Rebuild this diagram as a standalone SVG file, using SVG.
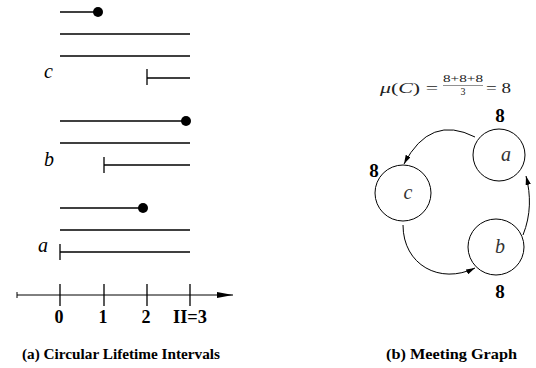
<svg xmlns="http://www.w3.org/2000/svg" width="536" height="368" viewBox="0 0 536 368">
<style>
.ln{stroke:#000;stroke-width:1.3;fill:none}
.dot{fill:#000}
.var{font-family:"Liberation Serif","DejaVu Serif",serif;font-style:italic;font-size:20px;fill:#000}
.num{font-family:"Liberation Serif",serif;font-weight:bold;font-size:18px;fill:#000}
.cap{font-family:"Liberation Serif",serif;font-weight:bold;font-size:14.5px;fill:#000}
.node{fill:#fff;stroke:#000;stroke-width:1}
.lbl{font-family:"Liberation Serif","DejaVu Serif",serif;font-style:italic;font-size:20px;fill:#333;text-anchor:middle}
.w{font-family:"Liberation Serif",serif;font-weight:bold;font-size:19px;fill:#000;text-anchor:middle}
.eq{font-family:"Liberation Serif",serif;font-size:15px;fill:#222}
.fr{font-family:"Liberation Serif",serif;font-size:10px;fill:#222;text-anchor:middle}
.edge{stroke:#000;stroke-width:1;fill:none;marker-end:url(#ah)}
</style>
<defs>
<marker id="ah" viewBox="0 0 10 6" refX="10" refY="3" markerWidth="9" markerHeight="5.4" markerUnits="userSpaceOnUse" orient="auto">
<path d="M0,0 L10,3 L0,6 Z" fill="#000"/>
</marker>
<marker id="axh" viewBox="0 0 16 6" refX="16" refY="3" markerWidth="16" markerHeight="6" markerUnits="userSpaceOnUse" orient="auto">
<path d="M0,0 L16,3 L0,6 Z" fill="#000"/>
</marker>
</defs>
<g id="intervals">
<g id="interval-c">
<line class="ln" x1="60" y1="12" x2="98" y2="12"/><circle class="dot" cx="98" cy="12" r="5"/>
<line class="ln" x1="60" y1="34" x2="190" y2="34"/>
<line class="ln" x1="60" y1="56" x2="190" y2="56"/>
<line class="ln" x1="147" y1="78" x2="190" y2="78"/><line class="ln" x1="147" y1="69" x2="147" y2="85"/>
<text class="var" x="44" y="78">c</text>
</g>
<g id="interval-b">
<line class="ln" x1="60" y1="121" x2="186" y2="121"/><circle class="dot" cx="186" cy="121" r="5"/>
<line class="ln" x1="60" y1="143" x2="190" y2="143"/>
<line class="ln" x1="104" y1="165" x2="190" y2="165"/><line class="ln" x1="104" y1="157" x2="104" y2="173"/>
<text class="var" x="44" y="166">b</text>
</g>
<g id="interval-a">
<line class="ln" x1="60" y1="208" x2="143" y2="208"/><circle class="dot" cx="143" cy="208" r="5"/>
<line class="ln" x1="60" y1="230" x2="190" y2="230"/>
<line class="ln" x1="60" y1="252" x2="190" y2="252"/><line class="ln" x1="60" y1="244" x2="60" y2="260"/>
<text class="var" x="38" y="252">a</text>
</g>
<g id="axis">
<line stroke="#000" stroke-width="1" x1="17" y1="295" x2="233" y2="295" marker-end="url(#axh)"/>
<line stroke="#000" stroke-width="1" x1="17" y1="292" x2="17" y2="298"/>
<line class="ln" x1="60" y1="284" x2="60" y2="306"/>
<line class="ln" x1="104" y1="284" x2="104" y2="306"/>
<line class="ln" x1="147" y1="284" x2="147" y2="306"/>
<line class="ln" x1="190" y1="284" x2="190" y2="306"/>
<text class="num" x="59" y="323" text-anchor="middle">0</text>
<text class="num" x="103" y="323" text-anchor="middle">1</text>
<text class="num" x="146" y="323" text-anchor="middle">2</text>
<text class="num" x="190" y="323" text-anchor="middle" textLength="34" lengthAdjust="spacingAndGlyphs">II=3</text>
</g>
<text class="cap" x="22" y="359" textLength="198" lengthAdjust="spacingAndGlyphs">(a) Circular Lifetime Intervals</text>
</g>
<g id="meeting-graph">
<g id="formula">
<text class="eq" x="380" y="93" textLength="58" lengthAdjust="spacingAndGlyphs"><tspan font-style="italic">μ</tspan>(<tspan font-style="italic">C</tspan>) =</text>
<text class="fr" x="463" y="82" textLength="40" lengthAdjust="spacingAndGlyphs">8+8+8</text>
<line stroke="#222" stroke-width="0.5" x1="443" y1="85.5" x2="483" y2="85.5"/>
<text class="fr" x="463" y="95">3</text>
<text class="eq" x="486" y="93" textLength="25" lengthAdjust="spacingAndGlyphs">= 8</text>
</g>
<g id="edges">
<path class="edge" d="M475,137 Q430,114 404,164"/>
<path class="edge" d="M403,225 C403,265 440,285 475,268"/>
<path class="edge" d="M523,235 C531,215 531,195 526,176"/>
</g>
<g id="node-a">
<circle class="node" cx="499" cy="155" r="26"/>
<text class="lbl" x="506" y="161">a</text>
<text class="w" x="500" y="122">8</text>
</g>
<g id="node-c">
<circle class="node" cx="403" cy="193" r="28"/>
<text class="lbl" x="408" y="199">c</text>
<text class="w" x="374" y="177">8</text>
</g>
<g id="node-b">
<circle class="node" cx="496" cy="247" r="28"/>
<text class="lbl" x="500" y="253">b</text>
<text class="w" x="500" y="298">8</text>
</g>
<text class="cap" x="386" y="359" textLength="131" lengthAdjust="spacingAndGlyphs">(b) Meeting Graph</text>
</g>
</svg>
